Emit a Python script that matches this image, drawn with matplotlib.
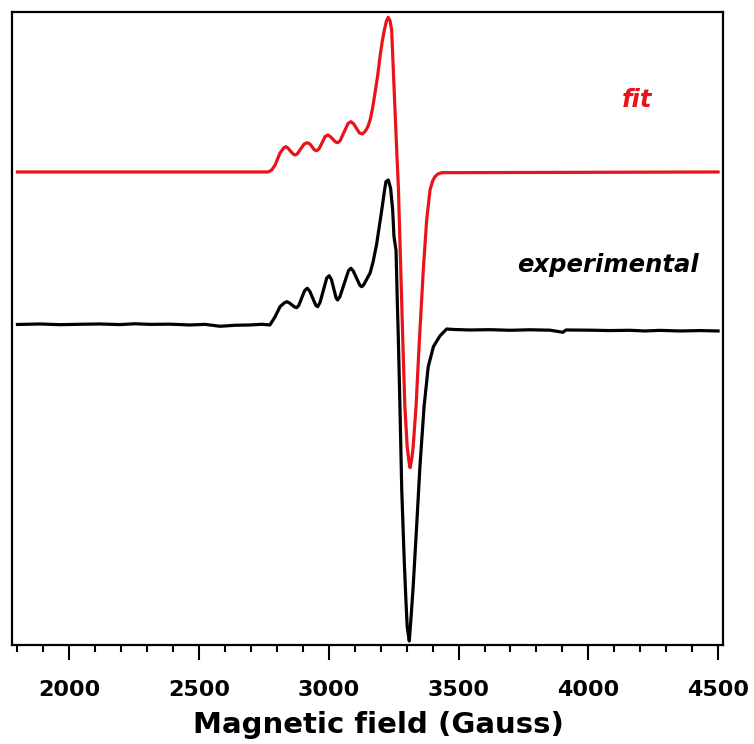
import numpy as np
import matplotlib
matplotlib.use("Agg")
import matplotlib.pyplot as plt
from matplotlib.ticker import MultipleLocator

# EPR spectra, field in Gauss, intensity in arbitrary units (relative to baseline)
fit_field = [1800, 2766, 2780, 2793, 2812, 2826, 2834, 2842, 2862, 2870,
             2878, 2905, 2917, 2927, 2945, 2953, 2962, 2986, 2996, 3005,
             3026, 3034, 3043, 3074, 3085, 3096, 3118, 3129, 3140, 3150,
             3159, 3168, 3178, 3188, 3197, 3206, 3214, 3222, 3229, 3236,
             3242, 3248, 3255, 3262, 3268, 3285, 3293, 3302, 3308, 3313,
             3319, 3325, 3336, 3349, 3364, 3377, 3390, 3400, 3409, 3420,
             3435, 4500]
fit_signal = [0, 0, 2, 7, 19, 24, 25.3, 24, 18, 17,
              18, 28, 29.3, 28, 22, 21.3, 23, 35.5, 37, 35.5,
              30, 29.3, 31, 48.5, 50.3, 48, 39, 38, 40.5, 45,
              52, 63, 79, 96, 115, 131, 142, 151, 154.7, 151,
              142, 105.3, 62, 19, -15, -168, -234.7, -274.7, -288, -295.7,
              -288, -274.7, -234.7, -168, -98, -48, -18, -9, -4.7, -2,
              -0.7, 0]

exp_field = [1800, 1887, 1964, 2041, 2118, 2195, 2253, 2311, 2388, 2465,
             2523, 2581, 2638, 2696, 2742, 2773, 2793, 2812, 2828, 2838,
             2848, 2868, 2876, 2884, 2907, 2917, 2927, 2950, 2957, 2966,
             2992, 3001, 3010, 3028, 3034, 3043, 3076, 3085, 3094, 3120,
             3127, 3135, 3159, 3170, 3184, 3204, 3214, 3220, 3229, 3238,
             3246, 3251, 3259, 3264, 3268, 3274, 3281, 3290, 3297, 3302,
             3310, 3317, 3325, 3339, 3351, 3367, 3383, 3403, 3428, 3454,
             3480, 3544, 3621, 3698, 3775, 3852, 3902, 3914, 4006, 4083,
             4160, 4218, 4276, 4353, 4430, 4500]
exp_signal = [0, 0.5, -0.2, 0.2, 0.5, -0.1, 0.7, 0.1, 0.3, -0.5,
              0.1, -1.8, -0.8, -0.5, 0.2, -0.5, 7.8, 17.8, 21.5, 22.8,
              21.5, 17.5, 16.8, 19, 34, 36.2, 33, 19, 17.8, 22,
              46.5, 48.8, 45, 26.5, 24.5, 28, 54, 56.2, 53.5, 39,
              37.8, 40, 51.5, 62, 80, 114.5, 133, 142.8, 144.5, 136.2,
              114.5, 88, 74, 21.5, -15.5, -82.2, -165.5, -232.2, -275.5, -302.2,
              -316.5, -292.2, -262.2, -198.8, -142.2, -82.2, -42.2, -22.2, -11.5, -4.5,
              -5, -5.5, -5.2, -5.8, -5.3, -5.7, -7.8, -5.5, -5.7, -6.1,
              -5.8, -6.5, -5.9, -6.5, -6.1, -6.5]

fit_offset = 473
exp_offset = 320.5

plt.rcParams['font.family'] = ['DejaVu Sans']
plt.rcParams['font.weight'] = 'bold'

fig = plt.figure(figsize=(7.54, 7.44), dpi=100)
ax = fig.add_axes([0.0159, 0.1331, 0.943, 0.8508])

ax.plot(exp_field, np.array(exp_signal) + exp_offset, color='black', lw=2.3,
        solid_joinstyle='round')
ax.plot(fit_field, np.array(fit_signal) + fit_offset, color='#e8141a', lw=2.3,
        solid_joinstyle='round')

ax.text(4187, 545, 'fit', color='#e8141a', fontsize=17.5, fontweight='bold',
        fontstyle='italic', ha='center', va='center')
ax.text(4076, 380, 'experimental', color='black', fontsize=17.5, fontweight='bold',
        fontstyle='italic', ha='center', va='center')

ax.set_xlim(1779, 4519)
ax.set_ylim(0, 633)

ax.xaxis.set_major_locator(MultipleLocator(500))
ax.xaxis.set_minor_locator(MultipleLocator(100))
ax.tick_params(axis='x', which='major', length=11, width=1.5, pad=14, labelsize=16)
ax.tick_params(axis='x', which='minor', length=5, width=1.5)
ax.set_yticks([])
for lbl in ax.get_xticklabels():
    lbl.set_fontweight('bold')
for sp in ax.spines.values():
    sp.set_linewidth(1.6)

ax.set_xlabel('Magnetic field (Gauss)', fontsize=21, fontweight='bold', labelpad=8)
ax.xaxis.set_label_coords(0.515, -0.105)

fig.savefig('out.png', dpi=100)
